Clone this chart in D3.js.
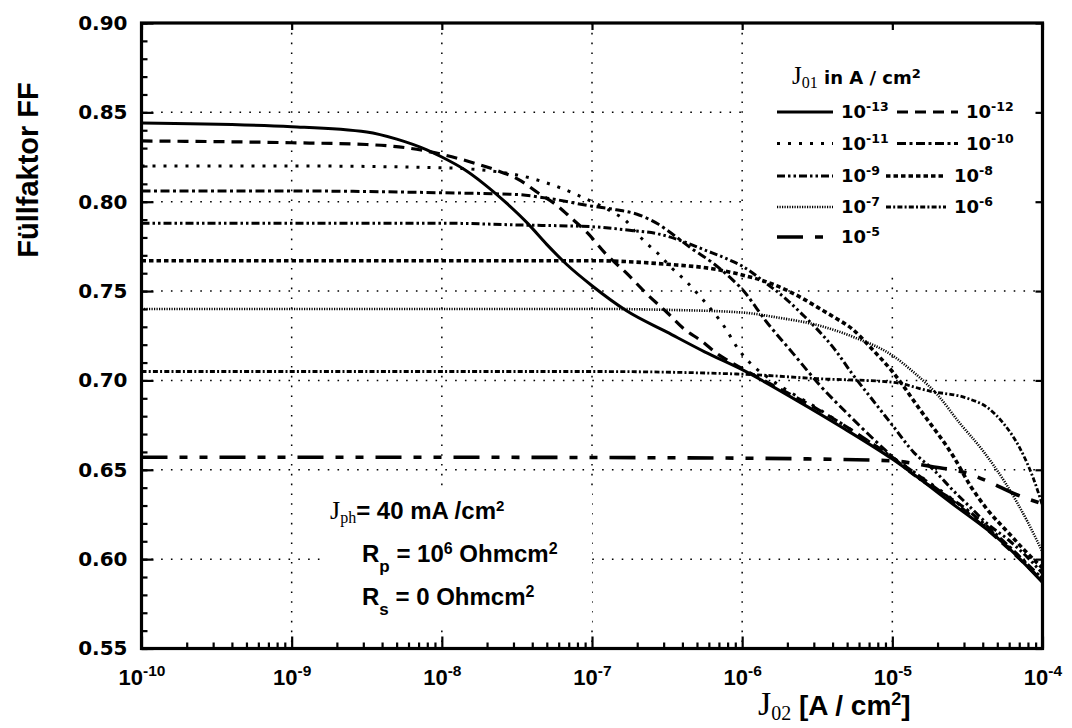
<!DOCTYPE html>
<html>
<head>
<meta charset="utf-8">
<script src="https://cdn.jsdelivr.net/npm/d3@7"></script>
<style>
  body { margin: 0; background: #fff; }
  svg { display: block; }
</style>
</head>
<body>
<svg id="chart" width="1072" height="728"></svg>
<script>
// ---- data: J02 as decade exponent, fill factor FF ----
const decades = [-10, -9, -8, -7, -6, -5, -4];
const ffTicks = [0.55, 0.60, 0.65, 0.70, 0.75, 0.80, 0.85, 0.90];
const ffTickLabels = ["0.55", "0.60", "0.65", "0.70", "0.75", "0.80", "0.85", "0.90"];

// J01 = 1e-13
const j13Exp = [-10, -9, -8.5, -8.3, -8.1, -8, -7.85, -7.72, -7.58, -7.43, -7.3, -7.17, -7, -6.77, -6.5, -6.25, -6, -5.64, -5.32, -5, -4.6, -4.26, -4];
const j13FF  = [0.844, 0.842, 0.839, 0.835, 0.829, 0.825, 0.818, 0.810, 0.800, 0.788, 0.776, 0.765, 0.753, 0.739, 0.727, 0.716, 0.706, 0.689, 0.673, 0.656, 0.631, 0.609, 0.587];
// J01 = 1e-12
const j12Exp = [-10, -9, -8.5, -8.22, -8, -7.78, -7.65, -7.47, -7.36, -7.25, -7.14, -7.03, -6.91, -6.77, -6.63, -6.5, -6.39, -6.27, -6.15, -6.05, -5.9, -5.5, -5, -4.5, -4];
const j12FF  = [0.834, 0.833, 0.832, 0.830, 0.8265, 0.8215, 0.818, 0.8115, 0.805, 0.799, 0.791, 0.7825, 0.771, 0.760, 0.748, 0.738, 0.729, 0.722, 0.714, 0.709, 0.702, 0.684, 0.657, 0.626, 0.588];
// J01 = 1e-11
const j11Exp = [-10, -9, -8, -7.5, -7.25, -7, -6.86, -6.77, -6.71, -6.64, -6.56, -6.47, -6.38, -6.27, -6.11, -6.03, -5.95, -5.8, -5.5, -5, -4.5, -4];
const j11FF  = [0.820, 0.820, 0.819, 0.815, 0.809, 0.800, 0.794, 0.789, 0.783, 0.777, 0.771, 0.763, 0.756, 0.746, 0.729, 0.718, 0.710, 0.700, 0.6845, 0.657, 0.627, 0.589];
// J01 = 1e-10
const j10Exp = [-10, -9, -8, -7.5, -7.3, -7, -6.84, -6.7, -6.56, -6.45, -6.34, -6.2, -6.06, -6, -5.84, -5.66, -5.49, -5.27, -5.06, -4.9, -4.5, -4];
const j10FF  = [0.806, 0.806, 0.805, 0.804, 0.802, 0.7975, 0.7955, 0.793, 0.7875, 0.781, 0.774, 0.766, 0.756, 0.751, 0.733, 0.715, 0.698, 0.679, 0.662, 0.650, 0.6275, 0.589];
// J01 = 1e-9
const j9Exp = [-10, -9, -8, -7.5, -7, -6.75, -6.56, -6.4, -6.25, -6.1, -6, -5.85, -5.7, -5.6, -5.51, -5.38, -5.27, -5.14, -5, -4.86, -4.72, -4.59, -4.48, -4.37, -4.23, -4.1, -4];
const j9FF  = [0.788, 0.788, 0.788, 0.787, 0.786, 0.784, 0.782, 0.778, 0.773, 0.768, 0.764, 0.755, 0.745, 0.737, 0.7295, 0.717, 0.704, 0.690, 0.675, 0.660, 0.6495, 0.638, 0.629, 0.620, 0.611, 0.601, 0.592];
// J01 = 1e-8
const j8Exp = [-10, -9, -8, -7, -6.5, -6.2, -6, -5.8, -5.6, -5.5, -5.38, -5.27, -5.14, -5, -4.81, -4.59, -4.48, -4.37, -4.23, -4.12, -4];
const j8FF  = [0.767, 0.767, 0.767, 0.767, 0.765, 0.7625, 0.759, 0.754, 0.746, 0.741, 0.735, 0.729, 0.718, 0.705, 0.683, 0.657, 0.641, 0.628, 0.615, 0.605, 0.595];
// J01 = 1e-7
const j7Exp = [-10, -8, -7, -6.5, -6, -5.75, -5.5, -5.25, -5, -4.85, -4.7, -4.55, -4.4, -4.25, -4.1, -4];
const j7FF  = [0.740, 0.740, 0.740, 0.7395, 0.738, 0.735, 0.731, 0.724, 0.714, 0.704, 0.692, 0.676, 0.661, 0.643, 0.621, 0.604];
// J01 = 1e-6
const j6Exp = [-10, -8, -7, -6, -5.5, -5, -4.75, -4.5, -4.37, -4.26, -4.15, -4.06, -4];
const j6FF  = [0.705, 0.705, 0.705, 0.7035, 0.701, 0.699, 0.694, 0.690, 0.685, 0.676, 0.662, 0.645, 0.630];
// J01 = 1e-5
const j5Exp = [-10, -8, -6, -5.5, -5, -4.75, -4.5, -4.35, -4.2, -4];
const j5FF  = [0.657, 0.657, 0.6565, 0.656, 0.655, 0.652, 0.648, 0.643, 0.637, 0.631];

// ---- styling ----
const W = 1072, H = 728;
const box = { left: 141.5, right: 1042.5, top: 23, bottom: 648.5 };
const serif = "'Liberation Serif', 'Times New Roman', serif";
const sans = "'Liberation Sans', Arial, Helvetica, sans-serif";
const wideSans = "'DejaVu Sans', Verdana, sans-serif";

const lineStyle = {
  "-13": { dash: null,                    width: 3.0 },
  "-12": { dash: "11,7",                  width: 3.2 },
  "-11": { dash: "3,8",                   width: 3.0 },
  "-10": { dash: "9,3.5,3,3.5",           width: 3.0 },
  "-9":  { dash: "8,3,2.5,3,2.5,3",       width: 3.0 },
  "-8":  { dash: "4.5,3",                 width: 3.6 },
  "-7":  { dash: "1.2,1.3",               width: 2.6 },
  "-6":  { dash: "5,2.2,2,2.2",           width: 2.8 },
  "-5":  { dash: "26,12,8,12,8,12",       width: 3.6 }
};

const series = [
  { exp: -13, e: j13Exp, ff: j13FF },
  { exp: -12, e: j12Exp, ff: j12FF },
  { exp: -11, e: j11Exp, ff: j11FF },
  { exp: -10, e: j10Exp, ff: j10FF },
  { exp: -9,  e: j9Exp,  ff: j9FF },
  { exp: -8,  e: j8Exp,  ff: j8FF },
  { exp: -7,  e: j7Exp,  ff: j7FF },
  { exp: -6,  e: j6Exp,  ff: j6FF },
  { exp: -5,  e: j5Exp,  ff: j5FF }
];

const x = d3.scaleLog().domain([1e-10, 1e-4]).range([box.left, box.right]);
const y = d3.scaleLinear().domain([0.55, 0.90]).range([box.bottom, box.top]);

const svg = d3.select("#chart");
svg.append("rect").attr("width", W).attr("height", H).attr("fill", "#fff");

// ---- dotted grid ----
const grid = svg.append("g").attr("stroke", "#000").attr("stroke-width", 1.5)
  .attr("stroke-dasharray", "1.6,8.2");
grid.selectAll("line.gv").data(decades.slice(1, -1)).join("line")
  .attr("class", "gv")
  .attr("x1", d => x(Math.pow(10, d))).attr("x2", d => x(Math.pow(10, d)))
  .attr("y1", box.top).attr("y2", box.bottom);
grid.selectAll("line.gh").data(ffTicks.slice(1, -1)).join("line")
  .attr("class", "gh")
  .attr("x1", box.left).attr("x2", box.right)
  .attr("y1", d => y(d)).attr("y2", d => y(d));

// white panels behind the legend and the parameter note
svg.append("rect").attr("x", 744).attr("y", 26).attr("width", 295).attr("height", 250).attr("fill", "#fff");
svg.append("rect").attr("x", 326).attr("y", 490).attr("width", 266).attr("height", 134).attr("fill", "#fff");

// ---- axes ----
const minorX = [];
decades.slice(0, -1).forEach(d => { for (let k = 2; k <= 9; k++) minorX.push(k * Math.pow(10, d)); });
const minorY = d3.range(55, 91).map(v => v / 100);

function styleAxis(g) {
  g.select(".domain").remove();
  g.selectAll(".tick line").attr("stroke", "#000").attr("stroke-width", 2.2);
}

svg.append("g").attr("transform", `translate(0,${box.bottom})`)
  .call(d3.axisBottom(x).tickValues(minorX).tickSize(-6).tickFormat(() => "")).call(styleAxis);
const xAxis = svg.append("g").attr("transform", `translate(0,${box.bottom})`)
  .call(d3.axisBottom(x).tickValues(decades.map(d => Math.pow(10, d))).tickSize(-12).tickPadding(18))
  .call(styleAxis);
xAxis.selectAll(".tick text").each(function (d) {
  const t = d3.select(this).text("")
    .attr("font-family", sans)
    .attr("font-weight", "bold").attr("font-size", 22).attr("fill", "#000").attr("dy", "0.85em");
  t.append("tspan").text("10");
  t.append("tspan").text(String(Math.round(Math.log10(d)))).attr("font-size", 15.5).attr("dy", -9);
});

svg.append("g").attr("transform", `translate(${box.left},0)`)
  .call(d3.axisLeft(y).tickValues(minorY).tickSize(-6).tickFormat(() => "")).call(styleAxis);
const yAxis = svg.append("g").attr("transform", `translate(${box.left},0)`)
  .call(d3.axisLeft(y).tickValues(ffTicks).tickSize(-12).tickPadding(14)
    .tickFormat((d, i) => ffTickLabels[i]))
  .call(styleAxis);
yAxis.selectAll(".tick text").attr("font-family", wideSans).attr("font-weight", "bold")
  .attr("font-size", 20).attr("fill", "#000");

svg.append("g").attr("transform", `translate(${box.right},0)`)
  .call(d3.axisRight(y).tickValues(ffTicks).tickSize(-7).tickFormat(() => "")).call(styleAxis);
svg.append("g").attr("transform", `translate(0,${box.top})`)
  .call(d3.axisTop(x).tickValues(decades.map(d => Math.pow(10, d))).tickSize(-7).tickFormat(() => "")).call(styleAxis);

// frame
svg.append("rect").attr("x", box.left).attr("y", box.top)
  .attr("width", box.right - box.left).attr("height", box.bottom - box.top)
  .attr("fill", "none").attr("stroke", "#000").attr("stroke-width", 3.2);

// ---- curves ----
const line = d3.line()
  .x(d => x(Math.pow(10, d[0])))
  .y(d => y(d[1]))
  .curve(d3.curveMonotoneX);

svg.append("clipPath").attr("id", "plotClip").append("rect")
  .attr("x", box.left).attr("y", box.top)
  .attr("width", box.right - box.left).attr("height", box.bottom - box.top);

svg.append("g").attr("clip-path", "url(#plotClip)")
  .selectAll("path.curve").data(series).join("path")
  .attr("class", "curve")
  .attr("d", s => line(s.e.map((v, i) => [v, s.ff[i]])))
  .attr("fill", "none").attr("stroke", "#000")
  .attr("stroke-width", s => lineStyle[s.exp].width)
  .attr("stroke-dasharray", s => lineStyle[s.exp].dash)
  .attr("stroke-linejoin", "round");

// ---- axis titles ----
svg.append("text")
  .attr("transform", "translate(38,170) rotate(-90)")
  .attr("text-anchor", "middle")
  .attr("font-family", sans).attr("font-weight", "bold").attr("font-size", 29)
  .text("Füllfaktor FF");

const xt = svg.append("text").attr("x", 758).attr("y", 715);
xt.append("tspan").text("J").attr("font-family", serif).attr("font-size", 34);
xt.append("tspan").text("02").attr("font-family", serif).attr("font-size", 20).attr("dy", 5);
xt.append("tspan").text(" [A / cm").attr("font-family", sans).attr("font-weight", "bold").attr("font-size", 28).attr("dy", -5);
xt.append("tspan").text("2").attr("font-family", sans).attr("font-weight", "bold").attr("font-size", 18).attr("dy", -10);
xt.append("tspan").text("]").attr("font-family", sans).attr("font-weight", "bold").attr("font-size", 28).attr("dy", 10);

// ---- legend ----
const legend = svg.append("g");
const lt = legend.append("text").attr("x", 792).attr("y", 84);
lt.append("tspan").text("J").attr("font-family", serif).attr("font-size", 25);
lt.append("tspan").text("01").attr("font-family", serif).attr("font-size", 16).attr("dy", 4);
lt.append("tspan").text(" in A / cm").attr("font-family", wideSans).attr("font-weight", "bold").attr("font-size", 18).attr("dy", -4);
lt.append("tspan").text("2").attr("font-family", wideSans).attr("font-weight", "bold").attr("font-size", 13).attr("dy", -6);

const legendRows = [[-13, -12], [-11, -10], [-9, -8], [-7, -6], [-5]];
const rowY = [112, 143.5, 176, 207, 237];
const firstSample = [777, 833];
const secondSample = [[897, 958], [886, 946]];

legendRows.forEach((row, r) => {
  const yy = rowY[r];
  row.forEach((ex, c) => {
    const sx = c === 0 ? firstSample : (r < 2 ? secondSample[0] : secondSample[1]);
    const st = lineStyle[ex];
    legend.append("line").attr("x1", sx[0]).attr("x2", sx[1]).attr("y1", yy).attr("y2", yy)
      .attr("stroke", "#000").attr("stroke-width", st.width).attr("stroke-dasharray", st.dash);
    const t = legend.append("text").attr("x", sx[1] + 8).attr("y", yy + 6)
      .attr("font-family", wideSans).attr("font-weight", "bold").attr("font-size", 18);
    t.append("tspan").text("10");
    t.append("tspan").text(String(ex)).attr("font-size", 12.5).attr("dy", -7);
  });
});

// ---- parameter note ----
const note = svg.append("g").attr("font-family", sans).attr("font-weight", "bold");
const n1 = note.append("text").attr("x", 330).attr("y", 519);
n1.append("tspan").text("J").attr("font-family", serif).attr("font-weight", "normal").attr("font-size", 26);
n1.append("tspan").text("ph").attr("font-family", serif).attr("font-weight", "normal").attr("font-size", 16).attr("dy", 4);
n1.append("tspan").text("= 40 mA /cm").attr("font-size", 24).attr("dy", -4);
n1.append("tspan").text("2").attr("font-size", 15).attr("dy", -8);

const n2 = note.append("text").attr("x", 362).attr("y", 562);
n2.append("tspan").text("R").attr("font-size", 24);
n2.append("tspan").text("p").attr("font-size", 17).attr("dy", 10);
n2.append("tspan").text(" = 10").attr("font-size", 24).attr("dy", -10);
n2.append("tspan").text("6").attr("font-size", 16).attr("dy", -8);
n2.append("tspan").text(" Ohmcm").attr("font-size", 24).attr("dy", 8);
n2.append("tspan").text("2").attr("font-size", 16).attr("dy", -8);

const n3 = note.append("text").attr("x", 362).attr("y", 605);
n3.append("tspan").text("R").attr("font-size", 24);
n3.append("tspan").text("s").attr("font-size", 17).attr("dy", 10);
n3.append("tspan").text(" = 0 Ohmcm").attr("font-size", 24).attr("dy", -10);
n3.append("tspan").text("2").attr("font-size", 16).attr("dy", -8);
</script>
</body>
</html>
